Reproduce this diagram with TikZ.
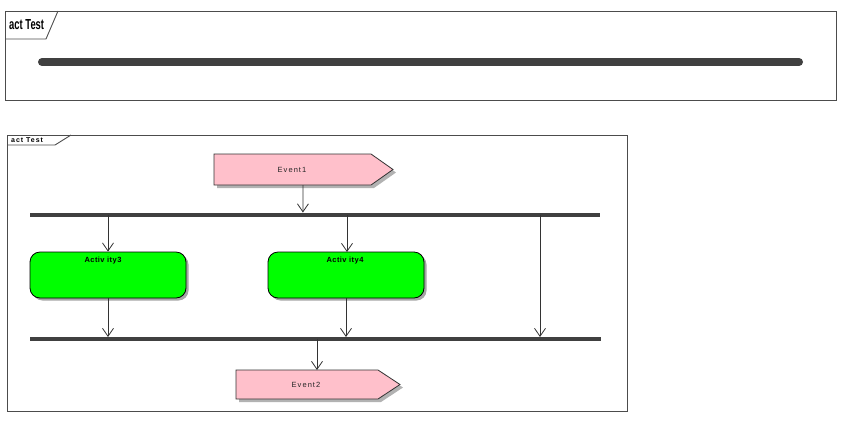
\documentclass[tikz,border=0pt]{standalone}
\usepackage{fontspec}
\setmainfont{Liberation Sans}
\usetikzlibrary{arrows.meta,shapes.symbols,shadows}
\definecolor{barcol}{HTML}{404040}
\definecolor{evpink}{HTML}{FFC0CB}
\definecolor{actgreen}{HTML}{00FF00}
\tikzset{
  frame/.style={draw=black!70, line width=0.9pt},
  barline/.style={draw=barcol, line width=4pt},
  bigbar/.style={draw=barcol, line width=8pt, line cap=round},
  flow/.style={draw=black!80, line width=0.8pt, -{Straight Barb[length=8pt,width=11pt,line width=0.8pt]}},
  actbox/.style={draw=black, line width=0.8pt, fill=actgreen, rounded corners=10pt, minimum width=156pt, minimum height=46pt, inner sep=0pt,
     drop shadow={shadow xshift=2.5pt, shadow yshift=-2.5pt, fill=black!35, opacity=1}},
  evshape/.style={draw=black!80, line width=0.8pt, fill=evpink},
  lbl/.style={font=\fontsize{7.5}{9}\selectfont\addfontfeature{LetterSpace=14}, text=black!85},
  albl/.style={font=\bfseries\fontsize{7.5}{9}\selectfont\addfontfeature{LetterSpace=6}, anchor=north, inner sep=0pt},
}
\begin{document}
\begin{tikzpicture}[x=1pt,y=-1pt]
\useasboundingbox (0,0) rectangle (848,424);
% top frame
\draw[frame] (5,11) rectangle (836,100);
\draw[frame] (5,39) -- (46,39) -- (58,11);
\node[anchor=west, font=\bfseries\fontsize{14.5}{16}\selectfont, inner sep=0pt] (t1) at (9,25) {\scalebox{0.65}[1]{act Test}};
\draw[bigbar] (42,62) -- (799,62);
\coordinate (bigbar) at (420,62);
% bottom frame
\draw[frame] (7,135) rectangle (627,411);
\draw[frame] (7,145) -- (55,145) -- (71,135);
\node[anchor=west, font=\bfseries\fontsize{7}{8}\selectfont\addfontfeature{LetterSpace=14}, inner sep=0pt] (t2) at (11,140.5) {act Test};
% Event1
\fill[black!30] (217,157) -- (374,157) -- (396,172.5) -- (374,188) -- (217,188) -- cycle;
\draw[evshape] (214,154) -- (371,154) -- (393,169.5) -- (371,185) -- (214,185) -- cycle;
\node[lbl] (ev1) at (292,169.5) {Event1};
\coordinate (ev1b) at (303,185);
% fork bar 1
\draw[barline] (30,214.5) -- (600,214.5);
\coordinate (f1a) at (303,214.5);
\coordinate (f1b) at (108,214.5);
\coordinate (f1c) at (347,214.5);
\coordinate (f1d) at (540,214.5);
% activities
\node[actbox] (a3) at (108,275) {};
\node[albl] (a3t) at (103,257) {Activ ity3};
\node[actbox] (a4) at (346,275) {};
\node[albl] (a4t) at (345,257) {Activ ity4};
% join bar 2
\draw[barline] (30,339) -- (601,339);
\coordinate (j1) at (108,337);
\coordinate (j2) at (346,337);
\coordinate (j3) at (540,337);
\coordinate (j4) at (317,339);
% Event2
\fill[black!30] (239,373) -- (381,373) -- (403,387.5) -- (381,402) -- (239,402) -- cycle;
\draw[evshape] (236,370) -- (378,370) -- (400,384.5) -- (378,399) -- (236,399) -- cycle;
\node[lbl] (ev2) at (306,384.5) {Event2};
\coordinate (ev2t) at (317,370);
% connectors
\draw[flow] (ev1b) -- (302.9,212.5);
\draw[flow] (f1b) -- (a3.north);
\draw[flow] (f1c) -- (347,252);
\draw[flow] (f1d) -- (j3);
\draw[flow] (a3.south) -- (j1);
\draw[flow] (a4.south) -- (j2);
\draw[flow] (j4) -- (ev2t);
\end{tikzpicture}
\end{document}
